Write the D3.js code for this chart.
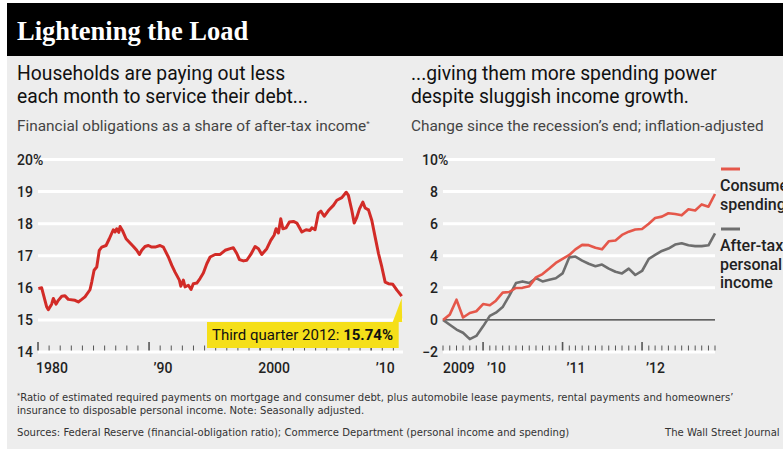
<!DOCTYPE html>
<html>
<head>
<meta charset="utf-8">
<script src="https://cdn.jsdelivr.net/npm/d3@7"></script>
<style>
  body { margin: 0; background: #fff; }
  svg { display: block; }
  text { font-family: Roboto, "Noto Sans", sans-serif; }
</style>
</head>
<body>
<svg id="chart"></svg>
<script>
// Financial obligations ratio, % of after-tax income (year, value)
const obligationYears = [
  1980.03, 1980.33, 1980.78, 1980.93, 1981.23, 1981.38, 1981.62, 1981.83, 1982.14, 1982.43,
  1982.73, 1983.33, 1983.63, 1983.94, 1984.23, 1984.68, 1984.84, 1985.05, 1985.29, 1985.52,
  1985.74, 1986.13, 1986.42, 1986.78, 1986.94, 1987.09, 1987.27, 1987.39, 1987.63, 1987.93,
  1988.29, 1988.59, 1988.89, 1989.13, 1989.34, 1989.64, 1989.94, 1990.24, 1990.54, 1990.99,
  1991.29, 1991.74, 1992.05, 1992.34, 1992.73, 1992.86, 1993.09, 1993.24, 1993.54, 1993.78,
  1993.99, 1994.30, 1994.59, 1994.89, 1995.20, 1995.50, 1995.95, 1996.40, 1996.85, 1997.30,
  1997.59, 1997.90, 1998.14, 1998.50, 1998.80, 1999.16, 1999.55, 1999.85, 2000.15, 2000.60,
  2000.96, 2001.26, 2001.44, 2001.65, 2001.86, 2002.05, 2002.34, 2002.64, 2003.00, 2003.31,
  2003.76, 2004.14, 2004.50, 2004.66, 2004.95, 2005.25, 2005.47, 2005.77, 2006.15, 2006.60,
  2006.91, 2007.36, 2007.75, 2007.95, 2008.26, 2008.47, 2008.71, 2008.95, 2009.25, 2009.46,
  2009.76, 2010.06, 2010.36, 2010.66, 2010.96, 2011.26, 2011.56, 2011.95, 2012.32, 2012.75
];
const obligationValues = [
  15.98, 16.00, 15.41, 15.32, 15.49, 15.67, 15.49, 15.61, 15.74, 15.75,
  15.64, 15.61, 15.56, 15.64, 15.72, 15.94, 16.18, 16.55, 16.65, 17.17,
  17.27, 17.32, 17.53, 17.81, 17.74, 17.84, 17.73, 17.91, 17.77, 17.53,
  17.40, 17.29, 17.17, 17.04, 17.17, 17.29, 17.32, 17.27, 17.27, 17.32,
  17.27, 16.96, 16.70, 16.49, 16.24, 16.05, 16.24, 16.03, 16.08, 15.95,
  16.13, 16.15, 16.29, 16.46, 16.75, 16.96, 17.04, 17.04, 17.17, 17.22,
  17.25, 17.07, 16.88, 16.84, 16.86, 17.04, 17.29, 17.22, 17.04, 17.22,
  17.48, 17.64, 17.84, 17.71, 18.15, 17.84, 17.87, 18.05, 18.07, 18.02,
  17.74, 17.81, 17.79, 17.87, 17.81, 18.33, 18.39, 18.23, 18.41, 18.57,
  18.73, 18.81, 18.98, 18.88, 18.41, 18.02, 18.20, 18.46, 18.67, 18.49,
  18.43, 18.10, 17.58, 17.07, 16.65, 16.18, 16.13, 16.11, 15.93, 15.74
];
const obligationTicks = [14, 15, 16, 17, 18, 19, 20];
const obligationYearLabels = [[1980, '1980'], [1990, '\u201990'], [2000, '2000'], [2010, '\u201910']];

// Monthly change since June 2009, %, inflation-adjusted (Jun 2009 .. Nov 2012)
const firstMonth = new Date(2009, 5, 1);
const spending = [
  0, 0.33, 1.26, 0.15, 0.43, 0.54, 0.99, 0.91, 1.2, 1.7,
  1.74, 1.99, 2.0, 2.1, 2.65, 2.86, 3.2, 3.55, 3.8, 4.05,
  4.4, 4.68, 4.66, 4.5, 4.4, 4.9, 4.95, 5.3, 5.5, 5.64,
  5.67, 6.0, 6.35, 6.44, 6.65, 6.6, 6.52, 6.9, 6.82, 7.2,
  7.06, 7.85
];
const income = [
  0, -0.3, -0.6, -0.8, -1.2, -1.0, -0.4, 0.25, 0.45, 0.8,
  1.5, 2.3, 2.4, 2.3, 2.6, 2.4, 2.5, 2.6, 2.9, 3.9,
  3.95, 3.7, 3.5, 3.35, 3.45, 3.2, 3.0, 2.9, 3.2, 2.8,
  3.05, 3.8, 4.05, 4.3, 4.45, 4.7, 4.78, 4.65, 4.6, 4.6,
  4.65, 5.4
];
const changeTicks = [-2, 0, 2, 4, 6, 8, 10];
const changeYearLabels = [[2009, '2009'], [2010, '\u201910'], [2011, '\u201911'], [2012, '\u201912']];

const width = 783;
const height = 451;

const svg = d3.select('#chart')
    .attr('width', width)
    .attr('height', height);

// panel and headline bar
svg.append('rect')
    .attr('x', 7).attr('y', 3)
    .attr('width', width - 7).attr('height', 446)
    .attr('fill', '#ededed');
svg.append('rect')
    .attr('x', 7).attr('y', 3)
    .attr('width', width - 7).attr('height', 53)
    .attr('fill', '#000');

svg.append('text')
    .attr('x', 17).attr('y', 40)
    .attr('fill', '#fff')
    .style('font-family', '"Liberation Serif", "DejaVu Serif", serif')
    .style('font-weight', 'bold')
    .style('font-size', '26.5px')
    .text('Lightening the Load');

// subtitles
function heading(x, lines, note) {
    lines.forEach((t, i) => {
        svg.append('text')
            .attr('x', x).attr('y', 80 + i * 23)
            .attr('fill', '#111')
            .style('font-size', '19.3px')
            .text(t);
    });
    return svg.append('text')
        .attr('x', x).attr('y', 131)
        .attr('fill', '#444')
        .style('font-size', '15.4px')
        .text(note);
}
heading(17, ['Households are paying out less', 'each month to service their debt...'],
    'Financial obligations as a share of after-tax income')
  .append('tspan')
    .attr('dy', -5)
    .style('font-size', '8px')
    .text('*');
heading(411, ['...giving them more spending power', 'despite sluggish income growth.'],
    'Change since the recession\u2019s end; inflation-adjusted');

// ---------- left chart ----------
const x1 = d3.scaleLinear().domain([1980, 2012.75]).range([38, 401.7]);
const y1 = d3.scaleLinear().domain([14, 20]).range([352, 159.5]);

const left = svg.append('g');

left.selectAll('.grid')
    .data(obligationTicks)
    .enter()
    .append('line')
    .attr('x1', 38).attr('x2', 403)
    .attr('y1', d => y1(d)).attr('y2', d => y1(d))
    .attr('stroke', '#fff')
    .attr('stroke-width', 3);

left.selectAll('.ylab')
    .data(obligationTicks)
    .enter()
    .append('text')
    .attr('x', 17)
    .attr('y', d => y1(d))
    .attr('dy', '0.36em')
    .attr('fill', '#222')
    .style('font-size', '14px')
    .style('font-weight', 500)
    .text(d => d === 20 ? '20%' : d);

left.selectAll('.tick')
    .data(d3.range(1980, 2013))
    .enter()
    .append('line')
    .attr('x1', d => x1(d)).attr('x2', d => x1(d))
    .attr('y1', d => d % 10 === 0 ? 342 : 345.5)
    .attr('y2', 350.5)
    .attr('stroke', '#555')
    .attr('stroke-width', d => d % 10 === 0 ? 1.6 : 1);

left.selectAll('.xlab')
    .data(obligationYearLabels)
    .enter()
    .append('text')
    .attr('x', d => x1(d[0]) + 14)
    .attr('y', 373)
    .attr('text-anchor', 'middle')
    .attr('fill', '#222')
    .style('font-size', '14px')
    .style('font-weight', 500)
    .text(d => d[1]);

const obligationLine = d3.line()
    .x((d, i) => x1(obligationYears[i]))
    .y(d => y1(d));

left.append('path')
    .attr('d', obligationLine(obligationValues))
    .attr('fill', 'none')
    .attr('stroke', '#d22b27')
    .attr('stroke-width', 3)
    .attr('stroke-linejoin', 'round');

// callout for the latest value
const lastX = x1(obligationYears[obligationYears.length - 1]);
const lastY = y1(obligationValues[obligationValues.length - 1]);
left.append('path')
    .attr('d', `M${lastX - 9},322 L${lastX + 0.5},322 L${lastX},${lastY + 2} Z`)
    .attr('fill', '#f5df19');
left.append('rect')
    .attr('x', 207).attr('y', 322)
    .attr('width', lastX - 3 - 207).attr('height', 26)
    .attr('fill', '#f5df19');
const callout = left.append('text')
    .attr('x', 212).attr('y', 340)
    .attr('fill', '#111')
    .style('font-size', '15px');
callout.append('tspan').text('Third quarter 2012: ');
callout.append('tspan').style('font-weight', 'bold').text('15.74%');

// ---------- right chart ----------
const months = spending.map((d, i) => d3.timeMonth.offset(firstMonth, i + 1));
const x2 = d3.scaleTime().domain(d3.extent(months)).range([443, 715]);
const y2 = d3.scaleLinear().domain([-2, 10]).range([352, 159.5]);

const right = svg.append('g');

right.selectAll('.grid')
    .data(changeTicks.filter(d => d !== 0))
    .enter()
    .append('line')
    .attr('x1', 443).attr('x2', 715)
    .attr('y1', d => y2(d)).attr('y2', d => y2(d))
    .attr('stroke', '#fff')
    .attr('stroke-width', 3);

right.append('line')
    .attr('x1', 443).attr('x2', 715)
    .attr('y1', y2(0)).attr('y2', y2(0))
    .attr('stroke', '#333')
    .attr('stroke-width', 1.2);

right.selectAll('.ylab')
    .data(changeTicks)
    .enter()
    .append('text')
    .attr('x', 438)
    .attr('y', d => y2(d))
    .attr('dy', '0.36em')
    .attr('text-anchor', 'end')
    .attr('fill', '#222')
    .style('font-size', '14px')
    .style('font-weight', 500)
    .text(d => d < 0 ? '\u2212' + Math.abs(d) : d);
right.append('text')
    .attr('x', 438)
    .attr('y', y2(10))
    .attr('dy', '0.36em')
    .attr('fill', '#222')
    .style('font-size', '14px')
    .style('font-weight', 500)
    .text('%');

right.selectAll('.tick')
    .data(d3.timeMonth.range(months[0], d3.timeMonth.offset(months[months.length - 1], 1)))
    .enter()
    .append('line')
    .attr('x1', d => x2(d)).attr('x2', d => x2(d))
    .attr('y1', d => d.getMonth() === 0 ? 342 : 345.5)
    .attr('y2', 350.5)
    .attr('stroke', '#555')
    .attr('stroke-width', d => d.getMonth() === 0 ? 1.6 : 1);

right.selectAll('.xlab')
    .data(changeYearLabels)
    .enter()
    .append('text')
    .attr('x', d => d[0] === 2009 ? x2(months[0]) : x2(new Date(d[0], 0, 1)) + 4)
    .attr('y', 373)
    .attr('fill', '#222')
    .style('font-size', '14px')
    .style('font-weight', 500)
    .text(d => d[1]);

const changeLine = d3.line()
    .x((d, i) => x2(months[i]))
    .y(d => y2(d));

right.append('path')
    .attr('d', changeLine(income))
    .attr('fill', 'none')
    .attr('stroke', '#6e6e6e')
    .attr('stroke-width', 2.6)
    .attr('stroke-linejoin', 'round');

right.append('path')
    .attr('d', changeLine(spending))
    .attr('fill', 'none')
    .attr('stroke', '#e5574a')
    .attr('stroke-width', 2.6)
    .attr('stroke-linejoin', 'round');

// legend (runs off the right edge, as in the printed graphic)
const legend = [
    {color: '#e5574a', y: 169, lines: ['Consumer', 'spending']},
    {color: '#6e6e6e', y: 229, lines: ['After-tax', 'personal', 'income']}
];
legend.forEach(item => {
    right.append('line')
        .attr('x1', 721).attr('x2', 740)
        .attr('y1', item.y).attr('y2', item.y)
        .attr('stroke', item.color)
        .attr('stroke-width', 3);
    item.lines.forEach((t, i) => {
        right.append('text')
            .attr('x', 720)
            .attr('y', item.y + 22 + i * 18.5)
            .attr('fill', '#222')
            .style('font-size', '16px')
            .style('font-weight', 500)
            .text(t);
    });
});

// footnotes
const noteFont = '"Liberation Sans Narrow", "DejaVu Sans Condensed", sans-serif';
const note1 = svg.append('text')
    .attr('x', 17).attr('y', 401)
    .attr('fill', '#333')
    .style('font-family', noteFont)
    .style('font-size', '11.2px');
note1.append('tspan').attr('dy', -3).style('font-size', '7px').text('*');
note1.append('tspan').attr('dy', 3)
    .text('Ratio of estimated required payments on mortgage and consumer debt, plus automobile lease payments, rental payments and homeowners\u2019');
svg.append('text')
    .attr('x', 17).attr('y', 414)
    .attr('fill', '#333')
    .style('font-family', noteFont)
    .style('font-size', '11.2px')
    .text('insurance to disposable personal income. Note: Seasonally adjusted.');
svg.append('text')
    .attr('x', 17).attr('y', 436)
    .attr('fill', '#333')
    .style('font-family', noteFont)
    .style('font-size', '11.2px')
    .text('Sources: Federal Reserve (financial-obligation ratio); Commerce Department (personal income and spending)');
svg.append('text')
    .attr('x', 665).attr('y', 436)
    .attr('fill', '#333')
    .style('font-family', noteFont)
    .style('font-size', '11.2px')
    .text('The Wall Street Journal');
</script>
</body>
</html>
